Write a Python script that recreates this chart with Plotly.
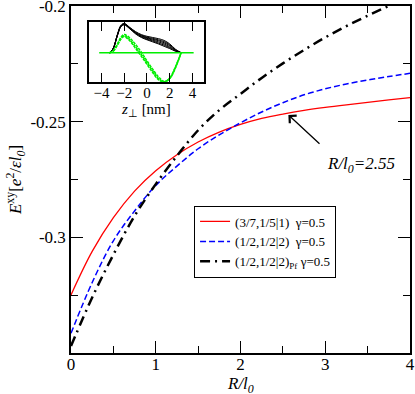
import plotly.graph_objects as go

# courbes principales : E^xy en fonction de R/l0
r_vals = [0, 0.25, 0.5, 0.75, 1.0, 1.25, 1.5, 1.75, 2.0, 2.25, 2.5, 2.75, 3.0, 3.25, 3.5, 3.75, 4.0]
e_red = [-0.3249, -0.3061, -0.2915, -0.2800, -0.2712, -0.2643, -0.2588, -0.2545, -0.2512,
         -0.2486, -0.2467, -0.2451, -0.2438, -0.2427, -0.2417, -0.2406, -0.2396]
e_blue = [-0.3415, -0.3195, -0.3015, -0.2886, -0.2776, -0.2692, -0.2617, -0.2557, -0.2505,
          -0.2458, -0.2418, -0.2384, -0.2358, -0.2337, -0.2320, -0.2305, -0.2291]
e_black = [-0.3470, -0.3260, -0.3075, -0.2908, -0.2770, -0.2648, -0.2537, -0.2450, -0.2380,
           -0.2311, -0.2248, -0.2190, -0.2136, -0.2087, -0.2042, -0.2000, -0.1962]

legend_names = ["(3/7,1/5|1)  γ=0.5", "(1/2,1/2|2)  γ=0.5", "(1/2,1/2|2)<sub>Pf</sub> γ=0.5"]

# encart : profils en z (unités arbitraires)
z_prof = [-3.3, -3.0, -2.6, -2.3, -2.0, -1.5, -1.0, -0.5, 0.0, 0.5, 1.0, 1.5, 2.0, 2.5, 3.0]
black_profiles = [
    [0, 0.12, 0.62, 0.93, 1.00, 0.86, 0.72, 0.62, 0.56, 0.52, 0.48, 0.42, 0.30, 0.12, 0],
    [0, 0.12, 0.62, 0.92, 0.99, 0.85, 0.70, 0.60, 0.53, 0.49, 0.44, 0.38, 0.27, 0.10, 0],
    [0, 0.12, 0.61, 0.91, 0.98, 0.84, 0.68, 0.58, 0.51, 0.46, 0.41, 0.34, 0.24, 0.09, 0],
    [0, 0.11, 0.60, 0.90, 0.97, 0.83, 0.67, 0.56, 0.49, 0.43, 0.37, 0.30, 0.20, 0.08, 0],
    [0, 0.11, 0.59, 0.89, 0.96, 0.82, 0.66, 0.54, 0.46, 0.40, 0.33, 0.26, 0.17, 0.06, 0],
    [0, 0.11, 0.58, 0.88, 0.95, 0.81, 0.64, 0.52, 0.44, 0.37, 0.30, 0.22, 0.14, 0.05, 0],
]
green_profiles = [
    [0, 0.05, 0.30, 0.52, 0.62, 0.50, 0.28, 0.02, -0.28, -0.56, -0.82, -0.98, -0.88, -0.52, 0],
    [0, 0.05, 0.28, 0.49, 0.58, 0.44, 0.20, -0.06, -0.34, -0.62, -0.88, -1.00, -0.88, -0.50, 0],
    [0, 0.04, 0.26, 0.46, 0.55, 0.40, 0.14, -0.12, -0.40, -0.68, -0.92, -1.00, -0.86, -0.48, 0],
]
z_zero = [-4.2, 4.1]
zero_line = [0, 0]

serif = "Liberation Serif"

fig = go.Figure()
fig.add_trace(go.Scatter(x=r_vals, y=e_red, mode="lines", name=legend_names[0],
                         line=dict(color="#ff0000", width=1.3, shape="spline")))
fig.add_trace(go.Scatter(x=r_vals, y=e_blue, mode="lines", name=legend_names[1],
                         line=dict(color="#0000ff", width=1.5, dash="6px,3px", shape="spline")))
fig.add_trace(go.Scatter(x=r_vals, y=e_black, mode="lines", name=legend_names[2],
                         line=dict(color="black", width=2.5, dash="10px,5px,2px,5px", shape="spline")))

for prof in black_profiles:
    fig.add_trace(go.Scatter(x=z_prof, y=prof, mode="lines", xaxis="x2", yaxis="y2", showlegend=False,
                             line=dict(color="black", width=1, shape="spline")))
for prof in green_profiles:
    fig.add_trace(go.Scatter(x=z_prof, y=prof, mode="lines", xaxis="x2", yaxis="y2", showlegend=False,
                             line=dict(color="#00ee00", width=1.5, dash="3px,1px", shape="spline")))
fig.add_trace(go.Scatter(x=z_zero, y=zero_line, mode="lines", xaxis="x2", yaxis="y2", showlegend=False,
                         line=dict(color="#00ee00", width=1.5)))

axis_common = dict(showline=True, linecolor="black", linewidth=1.5, mirror="allticks",
                   ticks="inside", ticklen=12, tickcolor="black", tickwidth=1.2,
                   showgrid=False, zeroline=False, automargin=False, ticklabeloverflow="allow",
                   tickfont=dict(family=serif, size=17, color="black"))

fig.update_layout(
    template="none",
    width=415, height=394,
    margin=dict(l=71, r=5, t=6, b=41),
    plot_bgcolor="white", paper_bgcolor="white",
    font=dict(family=serif, color="black"),
    xaxis=dict(range=[0, 4], dtick=1, domain=[0, 1], ticklabelstandoff=-5,
               minor=dict(dtick=0.5, ticks="inside", ticklen=7, tickcolor="black", tickwidth=1.2),
               **axis_common),
    yaxis=dict(range=[-0.35, -0.2], tickvals=[-0.35, -0.3, -0.25, -0.2],
               ticktext=["", "-0.3", "-0.25", "-0.2"], domain=[0, 1],
               minor=dict(dtick=0.025, ticks="inside", ticklen=7, tickcolor="black", tickwidth=1.2),
               title=dict(text="<i>E</i><sup>xy</sup>[<i>e</i><sup>2</sup>/<i>εl</i><sub><i>0</i></sub>]",
                          font=dict(size=17), standoff=4),
               **axis_common),
    xaxis2=dict(domain=[0.053, 0.392], anchor="y2", range=[-5.1, 5], tickvals=[-4, -2, 0, 2, 4],
                showline=True, linecolor="black", linewidth=1.5, mirror="allticks",
                ticks="inside", ticklen=9, tickcolor="black", showgrid=False, zeroline=False,
                automargin=False, ticklabelstandoff=-4,
                tickfont=dict(family=serif, size=15, color="black"),
                title=dict(text="<i>z</i><sub>⊥</sub> [nm]", font=dict(size=15), standoff=0)),
    yaxis2=dict(domain=[0.781, 0.954], anchor="x2", range=[-1.0, 1.05],
                showline=True, linecolor="black", linewidth=1.5, mirror=True, automargin=False,
                showticklabels=False, ticks="", showgrid=False, zeroline=False),
    legend=dict(x=0.363, y=0.425, xanchor="left", yanchor="top",
                bordercolor="black", borderwidth=1, bgcolor="white",
                font=dict(family=serif, size=13, color="black"),
                itemwidth=30, tracegroupgap=0),
    annotations=[
        # titre de l'axe x, placé à la main sous les graduations
        dict(x=0.5, y=-0.093, xref="paper", yref="paper", showarrow=False, yanchor="middle",
             text="<i>R/l</i><sub><i>0</i></sub>", font=dict(family=serif, size=17, color="black")),
        dict(x=2.565, y=-0.2471, ax=2.95, ay=-0.2601, xref="x", yref="y", axref="x", ayref="y",
             text="", showarrow=True, arrowhead=4, arrowsize=1.5, arrowwidth=1.3, arrowcolor="black"),
        dict(x=3.42, y=-0.2687, xref="x", yref="y", showarrow=False,
             text="<i>R/l</i><sub><i>0</i></sub><i>=2.55</i>",
             font=dict(family=serif, size=17, color="black")),
    ],
)

fig.write_html("out.html", config={"displayModeBar": False},
               post_script="document.body.style.margin='0';")
